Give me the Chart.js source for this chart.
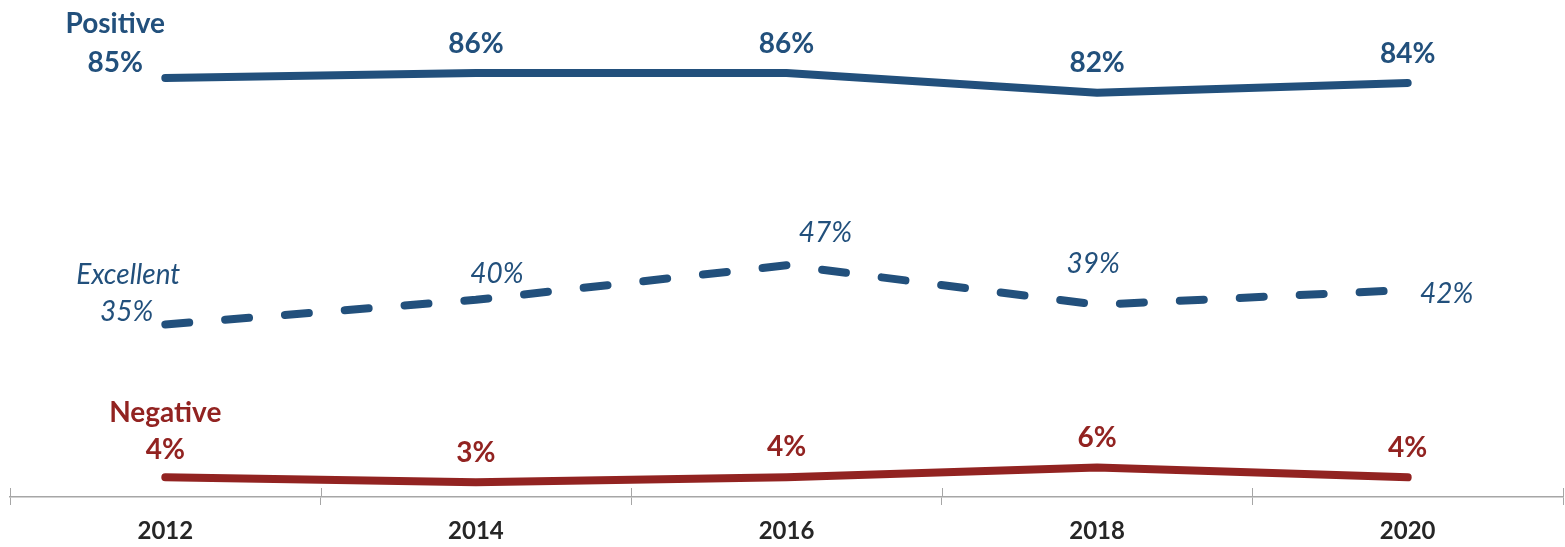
<!DOCTYPE html>
<html><head><meta charset="utf-8">
<script src="https://cdn.jsdelivr.net/npm/chart.js@4.4.0/dist/chart.umd.min.js"></script>
<style>html,body{margin:0;padding:0;background:#fff;}#wrap{width:1565px;height:547px;}</style>
</head><body><div id="wrap"><canvas id="c" width="1565" height="547"></canvas></div>
<script>
const years = ['2012', '2014', '2016', '2018', '2020'];
const positive = [85, 86, 86, 82, 84];
const excellent = [35, 40, 47, 39, 42];
const negative = [4, 3, 4, 6, 4];
const seriesNames = ['Positive', 'Excellent', 'Negative'];

const BLUE = '#22507c';
const RED = '#922321';
const GRAY = '#a6a6a6';

// label placement styles (offsets from the plotted point, text baseline)
const labelStyles = [
  { font: 'bold 28px Lato', color: BLUE,
    offsets: [[-50, -6, 'center'], [0, -20, 'center'], [0, -20, 'center'], [0, -21, 'center'], [0, -20, 'center']],
    title: [-50, -45, 'center'] },
  { font: 'italic 28px Lato', color: BLUE,
    offsets: [[-12, -3, 'right'], [21, -17, 'center'], [39, -23, 'center'], [-4, -32, 'center'], [39, 13, 'center']],
    title: [-37, -40, 'center'] },
  { font: 'bold 28px Lato', color: RED,
    offsets: [[0, -18, 'center'], [0, -20, 'center'], [0, -21, 'center'], [0, -20, 'center'], [0, -20, 'center']],
    title: [0, -55, 'center'] }
];

const labelPlugin = {
  id: 'valueLabels',
  afterDatasetsDraw(chart) {
    const ctx = chart.ctx;
    chart.data.datasets.forEach((ds, i) => {
      const meta = chart.getDatasetMeta(i);
      const st = labelStyles[i];
      ctx.save();
      ctx.font = st.font;
      ctx.fillStyle = st.color;
      ctx.textBaseline = 'alphabetic';
      meta.data.forEach((pt, j) => {
        const o = st.offsets[j];
        ctx.textAlign = o[2];
        ctx.fillText(ds.data[j] + '%', pt.x + o[0], pt.y + o[1]);
        if (j === 0) {
          ctx.textAlign = st.title[2];
          ctx.fillText(ds.label, pt.x + st.title[0], pt.y + st.title[1]);
        }
      });
      ctx.restore();
    });
  }
};

const tickUpPlugin = {
  id: 'tickUp',
  afterDraw(chart) {
    const x = chart.scales.x;
    const ctx = chart.ctx;
    ctx.save();
    ctx.strokeStyle = GRAY;
    ctx.lineWidth = 1;
    for (let i = 0; i <= years.length; i++) {
      const px = Math.round(x.getPixelForValue(i - 0.5)) + 0.5;
      ctx.beginPath();
      ctx.moveTo(px, x.top - 9);
      ctx.lineTo(px, x.top);
      ctx.stroke();
    }
    ctx.restore();
  }
};

new Chart(document.getElementById('c'), {
  type: 'line',
  data: {
    labels: years,
    datasets: [
      { label: seriesNames[0], data: positive, borderColor: BLUE, borderWidth: 8, pointRadius: 0,
        borderCapStyle: 'round', borderJoinStyle: 'round', tension: 0, fill: false },
      { label: seriesNames[1], data: excellent, borderColor: BLUE, borderWidth: 8, pointRadius: 0,
        borderCapStyle: 'round', borderJoinStyle: 'round', borderDash: [24, 36], tension: 0, fill: false },
      { label: seriesNames[2], data: negative, borderColor: RED, borderWidth: 8, pointRadius: 0,
        borderCapStyle: 'round', borderJoinStyle: 'round', tension: 0, fill: false }
    ]
  },
  options: {
    responsive: false,
    animation: false,
    devicePixelRatio: 1,
    layout: { padding: { left: 10, right: 2, top: 4, bottom: 0 } },
    plugins: { legend: { display: false }, tooltip: { enabled: false } },
    scales: {
      x: {
        offset: true,
        afterFit(scale) { scale.height = 50; },
        grid: { display: true, offset: true, drawOnChartArea: false, drawTicks: true, tickLength: 8, color: GRAY, lineWidth: 1 },
        border: { display: true, color: GRAY, width: 1.5 },
        ticks: { color: '#262626', font: { family: 'Lato', size: 24, weight: 'bold' }, padding: 12, maxRotation: 0 }
      },
      y: { display: false, min: 0, max: 100 }
    }
  },
  plugins: [labelPlugin, tickUpPlugin]
});
</script>
</body></html>
